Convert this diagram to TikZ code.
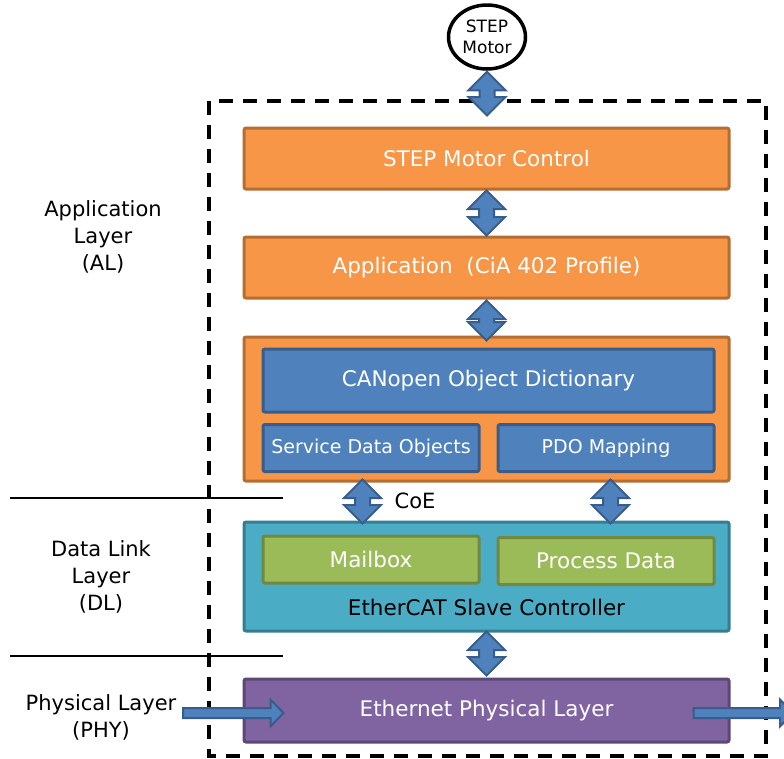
\documentclass[tikz,border=0pt]{standalone}
\usepackage{fontspec}
\setmainfont{DejaVu Sans}
\usetikzlibrary{calc,shapes.geometric}

\definecolor{orangeF}{HTML}{F79646}
\definecolor{orangeD}{HTML}{B66D31}
\definecolor{blueF}{HTML}{4F81BD}
\definecolor{blueD}{HTML}{385D8A}
\definecolor{tealF}{HTML}{4BACC6}
\definecolor{tealD}{HTML}{357D91}
\definecolor{greenF}{HTML}{9BBB59}
\definecolor{greenD}{HTML}{71893F}
\definecolor{purpleF}{HTML}{8064A2}
\definecolor{purpleD}{HTML}{5C4776}

\tikzset{
  txt/.style={inner sep=0pt, align=center, font=\fontsize{21}{27}\selectfont},
  layerbox/.style={draw=#1D, fill=#1F, line width=3pt, rounded corners=2pt,
    inner sep=0pt, text=white, font=\fontsize{21.5}{25}\selectfont,
    minimum width=485pt, minimum height=61pt},
  subbox/.style={layerbox=#1, minimum width=216pt, minimum height=47pt},
  motor/.style={ellipse, draw, line width=3.5pt, fill=white, inner sep=0pt,
    minimum width=77pt, minimum height=64pt, align=center,
    font=\fontsize{17}{21}\selectfont},
  frame/.style={line width=4pt, dash pattern=on 14pt off 10pt},
  blockarrow/.style={fill=blueF, draw=blueD, line width=2pt, line join=miter},
  sep/.style={line width=1.5pt}
}

% block arrow with two heads, top point #1, bottom point #2
\newcommand{\updown}[2]{%
  \draw[blockarrow] let \p1=(#1), \p2=(#2) in
    (\x1,\y1) -- (\x1+18.5pt,\y1-18.5pt) -- (\x1+7.5pt,\y1-18.5pt)
    -- (\x1+7.5pt,\y2+18.5pt) -- (\x1+18.5pt,\y2+18.5pt) -- (\x1,\y2)
    -- (\x1-18.5pt,\y2+18.5pt) -- (\x1-7.5pt,\y2+18.5pt)
    -- (\x1-7.5pt,\y1-18.5pt) -- (\x1-18.5pt,\y1-18.5pt) -- cycle;}
% block arrow pointing right, from #1 to #2
\newcommand{\rightarr}[2]{%
  \draw[blockarrow] let \p1=(#1), \p2=(#2) in
    (\x1,\y1+5pt) -- (\x2-13pt,\y1+5pt) -- (\x2-13pt,\y1+13.5pt) -- (\x2,\y1)
    -- (\x2-13pt,\y1-13.5pt) -- (\x2-13pt,\y1-5pt) -- (\x1,\y1-5pt) -- cycle;}

\begin{document}
\begin{tikzpicture}[x=1pt,y=-1pt]
  \useasboundingbox (0,0) rectangle (784,758);
  \clip (0,0) rectangle (784,758);

  % motor and slave frame
  \draw[frame] (209,101) rectangle (766,756);
  \node[motor] (motor) at (487,37) {STEP\\Motor};

  % layer names
  \node[txt] (al) at (103,237) {Application\\Layer\\(AL)};
  \node[txt] (dl) at (101,577) {Data Link\\Layer\\(DL)};
  \node[txt] (pl) at (101,717) {Physical Layer\\(PHY)};
  \draw[sep] (10,498) -- (283,498);
  \draw[sep] (10,656) -- (283,656);

  % application layer
  \node[layerbox=orange] (ctrl) at (486.5,158.5) {STEP Motor Control};
  \node[layerbox=orange] (app) at (486.5,267.5) {Application\ \ (CiA 402 Profile)};
  \node[layerbox=orange, minimum height=144pt] (coe) at (486.5,409) {};
  \node[layerbox=blue, minimum width=451pt, minimum height=63pt] (od) at (488.5,380.5) {CANopen Object Dictionary};
  \node[subbox=blue, font=\fontsize{19}{23}\selectfont] (sdo) at (371,448) {Service Data Objects};
  \node[subbox=blue, font=\fontsize{19}{23}\selectfont] (pdo) at (606,448) {PDO Mapping};

  % data link layer
  \node[layerbox=teal, minimum height=109pt] (esc) at (486.5,576.5) {};
  \node[subbox=green] (mbx) at (371,559.5) {Mailbox};
  \node[subbox=green] (pd) at (606,561) {Process Data};
  \node[txt, font=\fontsize{21.5}{25}\selectfont] (esctxt) at (486.5,607) {EtherCAT Slave Controller};

  % physical layer
  \node[layerbox=purple, minimum height=63pt] (phy) at (486.5,710.5) {Ethernet Physical Layer};
  \coordinate (phyin) at (183,713);
  \coordinate (phyout) at (793,713);

  % arrows
  \updown{$(motor.south)+(0,1)$}{$(ctrl.north)+(0,-11)$}
  \updown{ctrl.south}{app.north}
  \updown{$(app.south)+(0,1)$}{$(coe.north)+(0,5)$}
  \updown{$(coe.south)+(-124,-3)$}{$(esc.north)+(-124,3)$}
  \updown{$(coe.south)+(124,-3)$}{$(esc.north)+(124,3)$}
  \updown{$(esc.south)+(0,-1)$}{$(phy.north)+(0,-2)$}
  \node[txt] (coelbl) at (415,501) {CoE};
  \rightarr{phyin}{$(phy.west)+(41,2.5)$}
  \rightarr{$(phy.east)+(-37,2.5)$}{phyout}
\end{tikzpicture}
\end{document}
